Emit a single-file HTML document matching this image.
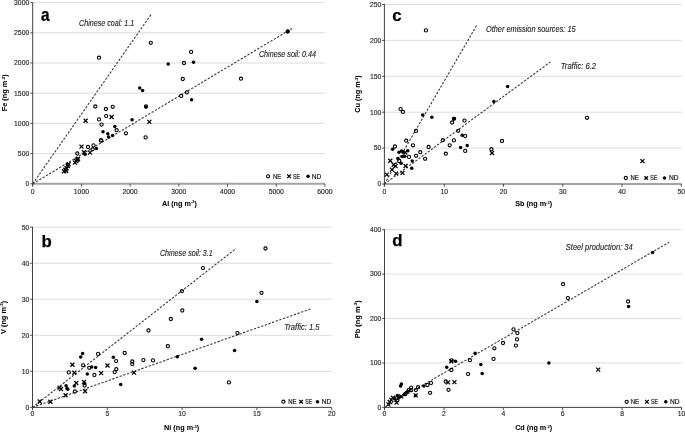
<!DOCTYPE html>
<html><head><meta charset="utf-8"><style>html,body{margin:0;padding:0;background:#fff;}svg{display:block;will-change:transform;}</style></head>
<body><svg width="685" height="432" viewBox="0 0 685 432">
<rect width="685" height="432" fill="#fff"/>
<line x1="32.7" y1="153.60" x2="324.9" y2="153.60" stroke="#d9d9d9" stroke-width="0.9"/>
<line x1="32.7" y1="123.40" x2="324.9" y2="123.40" stroke="#d9d9d9" stroke-width="0.9"/>
<line x1="32.7" y1="93.20" x2="324.9" y2="93.20" stroke="#d9d9d9" stroke-width="0.9"/>
<line x1="32.7" y1="63.00" x2="324.9" y2="63.00" stroke="#d9d9d9" stroke-width="0.9"/>
<line x1="32.7" y1="32.80" x2="324.9" y2="32.80" stroke="#d9d9d9" stroke-width="0.9"/>
<line x1="32.7" y1="2.60" x2="324.9" y2="2.60" stroke="#d9d9d9" stroke-width="0.9"/>
<line x1="32.7" y1="2.10" x2="32.7" y2="186.30" stroke="#404040" stroke-width="1"/>
<line x1="30.300000000000004" y1="183.80" x2="32.7" y2="183.80" stroke="#404040" stroke-width="0.9"/>
<line x1="30.300000000000004" y1="153.60" x2="32.7" y2="153.60" stroke="#404040" stroke-width="0.9"/>
<line x1="30.300000000000004" y1="123.40" x2="32.7" y2="123.40" stroke="#404040" stroke-width="0.9"/>
<line x1="30.300000000000004" y1="93.20" x2="32.7" y2="93.20" stroke="#404040" stroke-width="0.9"/>
<line x1="30.300000000000004" y1="63.00" x2="32.7" y2="63.00" stroke="#404040" stroke-width="0.9"/>
<line x1="30.300000000000004" y1="32.80" x2="32.7" y2="32.80" stroke="#404040" stroke-width="0.9"/>
<line x1="30.300000000000004" y1="2.60" x2="32.7" y2="2.60" stroke="#404040" stroke-width="0.9"/>
<text x="29.20" y="186.13" font-family="Liberation Sans" font-size="7.2" text-anchor="end" font-weight="normal" font-style="normal" fill="#262626" stroke="#262626" stroke-width="0.15" textLength="3.78" lengthAdjust="spacingAndGlyphs" >0</text>
<text x="29.20" y="155.93" font-family="Liberation Sans" font-size="7.2" text-anchor="end" font-weight="normal" font-style="normal" fill="#262626" stroke="#262626" stroke-width="0.15" textLength="11.34" lengthAdjust="spacingAndGlyphs" >500</text>
<text x="29.20" y="125.73" font-family="Liberation Sans" font-size="7.2" text-anchor="end" font-weight="normal" font-style="normal" fill="#262626" stroke="#262626" stroke-width="0.15" textLength="15.12" lengthAdjust="spacingAndGlyphs" >1000</text>
<text x="29.20" y="95.53" font-family="Liberation Sans" font-size="7.2" text-anchor="end" font-weight="normal" font-style="normal" fill="#262626" stroke="#262626" stroke-width="0.15" textLength="15.12" lengthAdjust="spacingAndGlyphs" >1500</text>
<text x="29.20" y="65.33" font-family="Liberation Sans" font-size="7.2" text-anchor="end" font-weight="normal" font-style="normal" fill="#262626" stroke="#262626" stroke-width="0.15" textLength="15.12" lengthAdjust="spacingAndGlyphs" >2000</text>
<text x="29.20" y="35.13" font-family="Liberation Sans" font-size="7.2" text-anchor="end" font-weight="normal" font-style="normal" fill="#262626" stroke="#262626" stroke-width="0.15" textLength="15.12" lengthAdjust="spacingAndGlyphs" >2500</text>
<text x="29.20" y="4.93" font-family="Liberation Sans" font-size="7.2" text-anchor="end" font-weight="normal" font-style="normal" fill="#262626" stroke="#262626" stroke-width="0.15" textLength="15.12" lengthAdjust="spacingAndGlyphs" >3000</text>
<line x1="32.7" y1="183.80" x2="324.9" y2="183.80" stroke="#a3a3a3" stroke-width="2"/>
<line x1="32.70" y1="183.80" x2="32.70" y2="186.60" stroke="#404040" stroke-width="0.9"/>
<line x1="81.40" y1="183.80" x2="81.40" y2="186.60" stroke="#404040" stroke-width="0.9"/>
<line x1="130.10" y1="183.80" x2="130.10" y2="186.60" stroke="#404040" stroke-width="0.9"/>
<line x1="178.80" y1="183.80" x2="178.80" y2="186.60" stroke="#404040" stroke-width="0.9"/>
<line x1="227.50" y1="183.80" x2="227.50" y2="186.60" stroke="#404040" stroke-width="0.9"/>
<line x1="276.20" y1="183.80" x2="276.20" y2="186.60" stroke="#404040" stroke-width="0.9"/>
<line x1="324.90" y1="183.80" x2="324.90" y2="186.60" stroke="#404040" stroke-width="0.9"/>
<text x="32.70" y="194.30" font-family="Liberation Sans" font-size="7.2" text-anchor="middle" font-weight="normal" font-style="normal" fill="#262626" stroke="#262626" stroke-width="0.15" textLength="3.78" lengthAdjust="spacingAndGlyphs" >0</text>
<text x="81.40" y="194.30" font-family="Liberation Sans" font-size="7.2" text-anchor="middle" font-weight="normal" font-style="normal" fill="#262626" stroke="#262626" stroke-width="0.15" textLength="15.12" lengthAdjust="spacingAndGlyphs" >1000</text>
<text x="130.10" y="194.30" font-family="Liberation Sans" font-size="7.2" text-anchor="middle" font-weight="normal" font-style="normal" fill="#262626" stroke="#262626" stroke-width="0.15" textLength="15.12" lengthAdjust="spacingAndGlyphs" >2000</text>
<text x="178.80" y="194.30" font-family="Liberation Sans" font-size="7.2" text-anchor="middle" font-weight="normal" font-style="normal" fill="#262626" stroke="#262626" stroke-width="0.15" textLength="15.12" lengthAdjust="spacingAndGlyphs" >3000</text>
<text x="227.50" y="194.30" font-family="Liberation Sans" font-size="7.2" text-anchor="middle" font-weight="normal" font-style="normal" fill="#262626" stroke="#262626" stroke-width="0.15" textLength="15.12" lengthAdjust="spacingAndGlyphs" >4000</text>
<text x="276.20" y="194.30" font-family="Liberation Sans" font-size="7.2" text-anchor="middle" font-weight="normal" font-style="normal" fill="#262626" stroke="#262626" stroke-width="0.15" textLength="15.12" lengthAdjust="spacingAndGlyphs" >5000</text>
<text x="324.90" y="194.30" font-family="Liberation Sans" font-size="7.2" text-anchor="middle" font-weight="normal" font-style="normal" fill="#262626" stroke="#262626" stroke-width="0.15" textLength="15.12" lengthAdjust="spacingAndGlyphs" >6000</text>
<line x1="32.5" y1="371.36" x2="331.7" y2="371.36" stroke="#d9d9d9" stroke-width="0.9"/>
<line x1="32.5" y1="335.32" x2="331.7" y2="335.32" stroke="#d9d9d9" stroke-width="0.9"/>
<line x1="32.5" y1="299.28" x2="331.7" y2="299.28" stroke="#d9d9d9" stroke-width="0.9"/>
<line x1="32.5" y1="263.24" x2="331.7" y2="263.24" stroke="#d9d9d9" stroke-width="0.9"/>
<line x1="32.5" y1="227.20" x2="331.7" y2="227.20" stroke="#d9d9d9" stroke-width="0.9"/>
<line x1="32.5" y1="226.70" x2="32.5" y2="409.90" stroke="#404040" stroke-width="1"/>
<line x1="30.1" y1="407.40" x2="32.5" y2="407.40" stroke="#404040" stroke-width="0.9"/>
<line x1="30.1" y1="371.36" x2="32.5" y2="371.36" stroke="#404040" stroke-width="0.9"/>
<line x1="30.1" y1="335.32" x2="32.5" y2="335.32" stroke="#404040" stroke-width="0.9"/>
<line x1="30.1" y1="299.28" x2="32.5" y2="299.28" stroke="#404040" stroke-width="0.9"/>
<line x1="30.1" y1="263.24" x2="32.5" y2="263.24" stroke="#404040" stroke-width="0.9"/>
<line x1="30.1" y1="227.20" x2="32.5" y2="227.20" stroke="#404040" stroke-width="0.9"/>
<text x="29.20" y="409.73" font-family="Liberation Sans" font-size="7.2" text-anchor="end" font-weight="normal" font-style="normal" fill="#262626" stroke="#262626" stroke-width="0.15" textLength="3.78" lengthAdjust="spacingAndGlyphs" >0</text>
<text x="29.20" y="373.69" font-family="Liberation Sans" font-size="7.2" text-anchor="end" font-weight="normal" font-style="normal" fill="#262626" stroke="#262626" stroke-width="0.15" textLength="7.56" lengthAdjust="spacingAndGlyphs" >10</text>
<text x="29.20" y="337.65" font-family="Liberation Sans" font-size="7.2" text-anchor="end" font-weight="normal" font-style="normal" fill="#262626" stroke="#262626" stroke-width="0.15" textLength="7.56" lengthAdjust="spacingAndGlyphs" >20</text>
<text x="29.20" y="301.61" font-family="Liberation Sans" font-size="7.2" text-anchor="end" font-weight="normal" font-style="normal" fill="#262626" stroke="#262626" stroke-width="0.15" textLength="7.56" lengthAdjust="spacingAndGlyphs" >30</text>
<text x="29.20" y="265.57" font-family="Liberation Sans" font-size="7.2" text-anchor="end" font-weight="normal" font-style="normal" fill="#262626" stroke="#262626" stroke-width="0.15" textLength="7.56" lengthAdjust="spacingAndGlyphs" >40</text>
<text x="29.20" y="229.53" font-family="Liberation Sans" font-size="7.2" text-anchor="end" font-weight="normal" font-style="normal" fill="#262626" stroke="#262626" stroke-width="0.15" textLength="7.56" lengthAdjust="spacingAndGlyphs" >50</text>
<line x1="32.5" y1="407.40" x2="331.7" y2="407.40" stroke="#404040" stroke-width="1"/>
<line x1="32.50" y1="407.40" x2="32.50" y2="410.20" stroke="#404040" stroke-width="0.9"/>
<line x1="107.30" y1="407.40" x2="107.30" y2="410.20" stroke="#404040" stroke-width="0.9"/>
<line x1="182.10" y1="407.40" x2="182.10" y2="410.20" stroke="#404040" stroke-width="0.9"/>
<line x1="256.90" y1="407.40" x2="256.90" y2="410.20" stroke="#404040" stroke-width="0.9"/>
<line x1="331.70" y1="407.40" x2="331.70" y2="410.20" stroke="#404040" stroke-width="0.9"/>
<text x="32.50" y="416.10" font-family="Liberation Sans" font-size="7.2" text-anchor="middle" font-weight="normal" font-style="normal" fill="#262626" stroke="#262626" stroke-width="0.15" textLength="3.78" lengthAdjust="spacingAndGlyphs" >0</text>
<text x="107.30" y="416.10" font-family="Liberation Sans" font-size="7.2" text-anchor="middle" font-weight="normal" font-style="normal" fill="#262626" stroke="#262626" stroke-width="0.15" textLength="3.78" lengthAdjust="spacingAndGlyphs" >5</text>
<text x="182.10" y="416.10" font-family="Liberation Sans" font-size="7.2" text-anchor="middle" font-weight="normal" font-style="normal" fill="#262626" stroke="#262626" stroke-width="0.15" textLength="7.56" lengthAdjust="spacingAndGlyphs" >10</text>
<text x="256.90" y="416.10" font-family="Liberation Sans" font-size="7.2" text-anchor="middle" font-weight="normal" font-style="normal" fill="#262626" stroke="#262626" stroke-width="0.15" textLength="7.56" lengthAdjust="spacingAndGlyphs" >15</text>
<text x="331.70" y="416.10" font-family="Liberation Sans" font-size="7.2" text-anchor="middle" font-weight="normal" font-style="normal" fill="#262626" stroke="#262626" stroke-width="0.15" textLength="7.56" lengthAdjust="spacingAndGlyphs" >20</text>
<line x1="384.4" y1="148.10" x2="681.6" y2="148.10" stroke="#d9d9d9" stroke-width="0.9"/>
<line x1="384.4" y1="112.20" x2="681.6" y2="112.20" stroke="#d9d9d9" stroke-width="0.9"/>
<line x1="384.4" y1="76.30" x2="681.6" y2="76.30" stroke="#d9d9d9" stroke-width="0.9"/>
<line x1="384.4" y1="40.40" x2="681.6" y2="40.40" stroke="#d9d9d9" stroke-width="0.9"/>
<line x1="384.4" y1="4.50" x2="681.6" y2="4.50" stroke="#d9d9d9" stroke-width="0.9"/>
<line x1="384.4" y1="4.00" x2="384.4" y2="186.50" stroke="#404040" stroke-width="1"/>
<line x1="382.0" y1="184.00" x2="384.4" y2="184.00" stroke="#404040" stroke-width="0.9"/>
<line x1="382.0" y1="148.10" x2="384.4" y2="148.10" stroke="#404040" stroke-width="0.9"/>
<line x1="382.0" y1="112.20" x2="384.4" y2="112.20" stroke="#404040" stroke-width="0.9"/>
<line x1="382.0" y1="76.30" x2="384.4" y2="76.30" stroke="#404040" stroke-width="0.9"/>
<line x1="382.0" y1="40.40" x2="384.4" y2="40.40" stroke="#404040" stroke-width="0.9"/>
<line x1="382.0" y1="4.50" x2="384.4" y2="4.50" stroke="#404040" stroke-width="0.9"/>
<text x="381.40" y="186.33" font-family="Liberation Sans" font-size="7.2" text-anchor="end" font-weight="normal" font-style="normal" fill="#262626" stroke="#262626" stroke-width="0.15" textLength="3.78" lengthAdjust="spacingAndGlyphs" >0</text>
<text x="381.40" y="150.43" font-family="Liberation Sans" font-size="7.2" text-anchor="end" font-weight="normal" font-style="normal" fill="#262626" stroke="#262626" stroke-width="0.15" textLength="7.56" lengthAdjust="spacingAndGlyphs" >50</text>
<text x="381.40" y="114.53" font-family="Liberation Sans" font-size="7.2" text-anchor="end" font-weight="normal" font-style="normal" fill="#262626" stroke="#262626" stroke-width="0.15" textLength="11.34" lengthAdjust="spacingAndGlyphs" >100</text>
<text x="381.40" y="78.63" font-family="Liberation Sans" font-size="7.2" text-anchor="end" font-weight="normal" font-style="normal" fill="#262626" stroke="#262626" stroke-width="0.15" textLength="11.34" lengthAdjust="spacingAndGlyphs" >150</text>
<text x="381.40" y="42.73" font-family="Liberation Sans" font-size="7.2" text-anchor="end" font-weight="normal" font-style="normal" fill="#262626" stroke="#262626" stroke-width="0.15" textLength="11.34" lengthAdjust="spacingAndGlyphs" >200</text>
<text x="381.40" y="6.83" font-family="Liberation Sans" font-size="7.2" text-anchor="end" font-weight="normal" font-style="normal" fill="#262626" stroke="#262626" stroke-width="0.15" textLength="11.34" lengthAdjust="spacingAndGlyphs" >250</text>
<line x1="384.4" y1="184.00" x2="681.6" y2="184.00" stroke="#a3a3a3" stroke-width="2"/>
<line x1="384.40" y1="184.00" x2="384.40" y2="186.80" stroke="#404040" stroke-width="0.9"/>
<line x1="444.25" y1="184.00" x2="444.25" y2="186.80" stroke="#404040" stroke-width="0.9"/>
<line x1="503.50" y1="184.00" x2="503.50" y2="186.80" stroke="#404040" stroke-width="0.9"/>
<line x1="562.75" y1="184.00" x2="562.75" y2="186.80" stroke="#404040" stroke-width="0.9"/>
<line x1="622.00" y1="184.00" x2="622.00" y2="186.80" stroke="#404040" stroke-width="0.9"/>
<line x1="681.30" y1="184.00" x2="681.30" y2="186.80" stroke="#404040" stroke-width="0.9"/>
<text x="384.40" y="193.80" font-family="Liberation Sans" font-size="7.2" text-anchor="middle" font-weight="normal" font-style="normal" fill="#262626" stroke="#262626" stroke-width="0.15" textLength="3.78" lengthAdjust="spacingAndGlyphs" >0</text>
<text x="444.25" y="193.80" font-family="Liberation Sans" font-size="7.2" text-anchor="middle" font-weight="normal" font-style="normal" fill="#262626" stroke="#262626" stroke-width="0.15" textLength="7.56" lengthAdjust="spacingAndGlyphs" >10</text>
<text x="503.50" y="193.80" font-family="Liberation Sans" font-size="7.2" text-anchor="middle" font-weight="normal" font-style="normal" fill="#262626" stroke="#262626" stroke-width="0.15" textLength="7.56" lengthAdjust="spacingAndGlyphs" >20</text>
<text x="562.75" y="193.80" font-family="Liberation Sans" font-size="7.2" text-anchor="middle" font-weight="normal" font-style="normal" fill="#262626" stroke="#262626" stroke-width="0.15" textLength="7.56" lengthAdjust="spacingAndGlyphs" >30</text>
<text x="622.00" y="193.80" font-family="Liberation Sans" font-size="7.2" text-anchor="middle" font-weight="normal" font-style="normal" fill="#262626" stroke="#262626" stroke-width="0.15" textLength="7.56" lengthAdjust="spacingAndGlyphs" >40</text>
<text x="681.30" y="193.80" font-family="Liberation Sans" font-size="7.2" text-anchor="middle" font-weight="normal" font-style="normal" fill="#262626" stroke="#262626" stroke-width="0.15" textLength="7.56" lengthAdjust="spacingAndGlyphs" >50</text>
<line x1="384.5" y1="362.97" x2="681.6" y2="362.97" stroke="#d9d9d9" stroke-width="0.9"/>
<line x1="384.5" y1="318.55" x2="681.6" y2="318.55" stroke="#d9d9d9" stroke-width="0.9"/>
<line x1="384.5" y1="274.12" x2="681.6" y2="274.12" stroke="#d9d9d9" stroke-width="0.9"/>
<line x1="384.5" y1="229.70" x2="681.6" y2="229.70" stroke="#d9d9d9" stroke-width="0.9"/>
<line x1="384.5" y1="229.20" x2="384.5" y2="409.90" stroke="#404040" stroke-width="1"/>
<line x1="382.1" y1="407.40" x2="384.5" y2="407.40" stroke="#404040" stroke-width="0.9"/>
<line x1="382.1" y1="362.97" x2="384.5" y2="362.97" stroke="#404040" stroke-width="0.9"/>
<line x1="382.1" y1="318.55" x2="384.5" y2="318.55" stroke="#404040" stroke-width="0.9"/>
<line x1="382.1" y1="274.12" x2="384.5" y2="274.12" stroke="#404040" stroke-width="0.9"/>
<line x1="382.1" y1="229.70" x2="384.5" y2="229.70" stroke="#404040" stroke-width="0.9"/>
<text x="381.40" y="409.73" font-family="Liberation Sans" font-size="7.2" text-anchor="end" font-weight="normal" font-style="normal" fill="#262626" stroke="#262626" stroke-width="0.15" textLength="3.78" lengthAdjust="spacingAndGlyphs" >0</text>
<text x="381.40" y="365.30" font-family="Liberation Sans" font-size="7.2" text-anchor="end" font-weight="normal" font-style="normal" fill="#262626" stroke="#262626" stroke-width="0.15" textLength="11.34" lengthAdjust="spacingAndGlyphs" >100</text>
<text x="381.40" y="320.88" font-family="Liberation Sans" font-size="7.2" text-anchor="end" font-weight="normal" font-style="normal" fill="#262626" stroke="#262626" stroke-width="0.15" textLength="11.34" lengthAdjust="spacingAndGlyphs" >200</text>
<text x="381.40" y="276.45" font-family="Liberation Sans" font-size="7.2" text-anchor="end" font-weight="normal" font-style="normal" fill="#262626" stroke="#262626" stroke-width="0.15" textLength="11.34" lengthAdjust="spacingAndGlyphs" >300</text>
<text x="381.40" y="232.03" font-family="Liberation Sans" font-size="7.2" text-anchor="end" font-weight="normal" font-style="normal" fill="#262626" stroke="#262626" stroke-width="0.15" textLength="11.34" lengthAdjust="spacingAndGlyphs" >400</text>
<line x1="384.5" y1="407.40" x2="681.6" y2="407.40" stroke="#404040" stroke-width="1"/>
<line x1="384.50" y1="407.40" x2="384.50" y2="410.20" stroke="#404040" stroke-width="0.9"/>
<line x1="444.00" y1="407.40" x2="444.00" y2="410.20" stroke="#404040" stroke-width="0.9"/>
<line x1="503.30" y1="407.40" x2="503.30" y2="410.20" stroke="#404040" stroke-width="0.9"/>
<line x1="562.70" y1="407.40" x2="562.70" y2="410.20" stroke="#404040" stroke-width="0.9"/>
<line x1="622.10" y1="407.40" x2="622.10" y2="410.20" stroke="#404040" stroke-width="0.9"/>
<line x1="681.50" y1="407.40" x2="681.50" y2="410.20" stroke="#404040" stroke-width="0.9"/>
<text x="384.50" y="415.70" font-family="Liberation Sans" font-size="7.2" text-anchor="middle" font-weight="normal" font-style="normal" fill="#262626" stroke="#262626" stroke-width="0.15" textLength="3.78" lengthAdjust="spacingAndGlyphs" >0</text>
<text x="444.00" y="415.70" font-family="Liberation Sans" font-size="7.2" text-anchor="middle" font-weight="normal" font-style="normal" fill="#262626" stroke="#262626" stroke-width="0.15" textLength="3.78" lengthAdjust="spacingAndGlyphs" >2</text>
<text x="503.30" y="415.70" font-family="Liberation Sans" font-size="7.2" text-anchor="middle" font-weight="normal" font-style="normal" fill="#262626" stroke="#262626" stroke-width="0.15" textLength="3.78" lengthAdjust="spacingAndGlyphs" >4</text>
<text x="562.70" y="415.70" font-family="Liberation Sans" font-size="7.2" text-anchor="middle" font-weight="normal" font-style="normal" fill="#262626" stroke="#262626" stroke-width="0.15" textLength="3.78" lengthAdjust="spacingAndGlyphs" >6</text>
<text x="622.10" y="415.70" font-family="Liberation Sans" font-size="7.2" text-anchor="middle" font-weight="normal" font-style="normal" fill="#262626" stroke="#262626" stroke-width="0.15" textLength="3.78" lengthAdjust="spacingAndGlyphs" >8</text>
<text x="681.50" y="415.70" font-family="Liberation Sans" font-size="7.2" text-anchor="middle" font-weight="normal" font-style="normal" fill="#262626" stroke="#262626" stroke-width="0.15" textLength="7.56" lengthAdjust="spacingAndGlyphs" >10</text>
<text x="41.10" y="20.60" font-family="Liberation Sans" font-size="17.8" text-anchor="start" font-weight="bold" font-style="normal" fill="#000" stroke="#000" stroke-width="0.25" textLength="8.6" lengthAdjust="spacingAndGlyphs" >a</text>
<text x="41.60" y="246.70" font-family="Liberation Sans" font-size="16.8" text-anchor="start" font-weight="bold" font-style="normal" fill="#000" stroke="#000" stroke-width="0.25" >b</text>
<text x="392.30" y="20.60" font-family="Liberation Sans" font-size="16.8" text-anchor="start" font-weight="bold" font-style="normal" fill="#000" stroke="#000" stroke-width="0.25" >c</text>
<text x="392.30" y="246.40" font-family="Liberation Sans" font-size="16.8" text-anchor="start" font-weight="bold" font-style="normal" fill="#000" stroke="#000" stroke-width="0.25" >d</text>
<text x="179.40" y="205.80" font-family="Liberation Sans" font-size="7.6" font-weight="bold" text-anchor="middle" fill="#000" stroke="#000" stroke-width="0.05" textLength="35" lengthAdjust="spacingAndGlyphs">Al (ng m<tspan font-size="4.2" dy="-2.4">-3</tspan><tspan dy="2.4">)</tspan></text>
<g transform="translate(4.30,92.80) rotate(-90)"><text x="0" y="2.6" font-family="Liberation Sans" font-size="7.2" font-weight="bold" text-anchor="middle" fill="#000" stroke="#000" stroke-width="0.05" textLength="37" lengthAdjust="spacingAndGlyphs">Fe (ng m<tspan font-size="4.2" dy="-2.4">-3</tspan><tspan dy="2.4">)</tspan></text></g>
<text x="181.60" y="429.90" font-family="Liberation Sans" font-size="7.6" font-weight="bold" text-anchor="middle" fill="#000" stroke="#000" stroke-width="0.05" textLength="35" lengthAdjust="spacingAndGlyphs">Ni (ng m<tspan font-size="4.2" dy="-2.4">-3</tspan><tspan dy="2.4">)</tspan></text>
<g transform="translate(3.00,317.40) rotate(-90)"><text x="0" y="2.6" font-family="Liberation Sans" font-size="7.2" font-weight="bold" text-anchor="middle" fill="#000" stroke="#000" stroke-width="0.05" textLength="33.2" lengthAdjust="spacingAndGlyphs">V (ng m<tspan font-size="4.2" dy="-2.4">-3</tspan><tspan dy="2.4">)</tspan></text></g>
<text x="533.60" y="206.10" font-family="Liberation Sans" font-size="7.6" font-weight="bold" text-anchor="middle" fill="#000" stroke="#000" stroke-width="0.05" textLength="36.9" lengthAdjust="spacingAndGlyphs">Sb (ng m<tspan font-size="4.2" dy="-2.4">-3</tspan><tspan dy="2.4">)</tspan></text>
<g transform="translate(357.40,94.00) rotate(-90)"><text x="0" y="2.6" font-family="Liberation Sans" font-size="7.2" font-weight="bold" text-anchor="middle" fill="#000" stroke="#000" stroke-width="0.05" textLength="37.5" lengthAdjust="spacingAndGlyphs">Cu (ng m<tspan font-size="4.2" dy="-2.4">-3</tspan><tspan dy="2.4">)</tspan></text></g>
<text x="533.60" y="430.20" font-family="Liberation Sans" font-size="7.6" font-weight="bold" text-anchor="middle" fill="#000" stroke="#000" stroke-width="0.05" textLength="36.9" lengthAdjust="spacingAndGlyphs">Cd (ng m<tspan font-size="4.2" dy="-2.4">-3</tspan><tspan dy="2.4">)</tspan></text>
<g transform="translate(357.00,319.20) rotate(-90)"><text x="0" y="2.6" font-family="Liberation Sans" font-size="7.2" font-weight="bold" text-anchor="middle" fill="#000" stroke="#000" stroke-width="0.05" textLength="38" lengthAdjust="spacingAndGlyphs">Pb (ng m<tspan font-size="4.2" dy="-2.4">-3</tspan><tspan dy="2.4">)</tspan></text></g>
<text x="79.10" y="26.00" font-family="Liberation Sans" font-size="8.6" text-anchor="start" font-weight="normal" font-style="italic" fill="#222" stroke="#222" stroke-width="0.12" textLength="55.1" lengthAdjust="spacingAndGlyphs" >Chinese coal: 1.1</text>
<text x="258.90" y="57.40" font-family="Liberation Sans" font-size="8.6" text-anchor="start" font-weight="normal" font-style="italic" fill="#222" stroke="#222" stroke-width="0.12" textLength="57.2" lengthAdjust="spacingAndGlyphs" >Chinese soil: 0.44</text>
<text x="159.90" y="256.40" font-family="Liberation Sans" font-size="8.6" text-anchor="start" font-weight="normal" font-style="italic" fill="#222" stroke="#222" stroke-width="0.12" textLength="52.9" lengthAdjust="spacingAndGlyphs" >Chinese soil: 3.1</text>
<text x="284.20" y="329.90" font-family="Liberation Sans" font-size="8.6" text-anchor="start" font-weight="normal" font-style="italic" fill="#222" stroke="#222" stroke-width="0.12" textLength="35.4" lengthAdjust="spacingAndGlyphs" >Traffic: 1.5</text>
<text x="486.00" y="31.90" font-family="Liberation Sans" font-size="8.6" text-anchor="start" font-weight="normal" font-style="italic" fill="#222" stroke="#222" stroke-width="0.12" textLength="89.6" lengthAdjust="spacingAndGlyphs" >Other emission sources: 15</text>
<text x="560.80" y="68.70" font-family="Liberation Sans" font-size="8.6" text-anchor="start" font-weight="normal" font-style="italic" fill="#222" stroke="#222" stroke-width="0.12" textLength="35.3" lengthAdjust="spacingAndGlyphs" >Traffic: 6.2</text>
<text x="565.80" y="249.70" font-family="Liberation Sans" font-size="8.6" text-anchor="start" font-weight="normal" font-style="italic" fill="#222" stroke="#222" stroke-width="0.12" textLength="66.8" lengthAdjust="spacingAndGlyphs" >Steel production: 34</text>
<line x1="32.70" y1="183.80" x2="151.00" y2="14.60" stroke="#383838" stroke-width="1.1" stroke-dasharray="2.3 1.55"/>
<line x1="32.70" y1="183.80" x2="292.00" y2="28.50" stroke="#383838" stroke-width="1.1" stroke-dasharray="2.3 1.55"/>
<line x1="32.50" y1="407.40" x2="236.10" y2="248.50" stroke="#383838" stroke-width="1.1" stroke-dasharray="2.3 1.55"/>
<line x1="32.50" y1="407.40" x2="311.90" y2="308.50" stroke="#383838" stroke-width="1.1" stroke-dasharray="2.3 1.55"/>
<line x1="384.40" y1="184.00" x2="476.90" y2="24.90" stroke="#383838" stroke-width="1.1" stroke-dasharray="2.3 1.55"/>
<line x1="384.40" y1="184.00" x2="550.50" y2="61.90" stroke="#383838" stroke-width="1.1" stroke-dasharray="2.3 1.55"/>
<line x1="384.50" y1="407.40" x2="669.10" y2="242.30" stroke="#383838" stroke-width="1.1" stroke-dasharray="2.3 1.55"/>
<circle cx="268.10" cy="176.30" r="1.6" fill="none" stroke="#000" stroke-width="1.1"/>
<path d="M287.20 174.50L290.80 178.10M287.20 178.10L290.80 174.50" stroke="#000" stroke-width="1.25" fill="none"/>
<circle cx="308.10" cy="176.30" r="1.75" fill="#000"/>
<text x="272.90" y="178.60" font-family="Liberation Sans" font-size="6.4" text-anchor="start" font-weight="normal" font-style="normal" fill="#1a1a1a" stroke="#1a1a1a" stroke-width="0.2" textLength="8.3" lengthAdjust="spacingAndGlyphs" >NE</text>
<text x="293.00" y="178.60" font-family="Liberation Sans" font-size="6.4" text-anchor="start" font-weight="normal" font-style="normal" fill="#1a1a1a" stroke="#1a1a1a" stroke-width="0.2" textLength="7.0" lengthAdjust="spacingAndGlyphs" >SE</text>
<text x="311.70" y="178.60" font-family="Liberation Sans" font-size="6.4" text-anchor="start" font-weight="normal" font-style="normal" fill="#1a1a1a" stroke="#1a1a1a" stroke-width="0.2" textLength="9.5" lengthAdjust="spacingAndGlyphs" >ND</text>
<circle cx="283.40" cy="401.70" r="1.6" fill="none" stroke="#000" stroke-width="1.1"/>
<path d="M299.30 399.90L302.90 403.50M299.30 403.50L302.90 399.90" stroke="#000" stroke-width="1.25" fill="none"/>
<circle cx="317.50" cy="401.70" r="1.75" fill="#000"/>
<text x="288.30" y="404.00" font-family="Liberation Sans" font-size="6.4" text-anchor="start" font-weight="normal" font-style="normal" fill="#1a1a1a" stroke="#1a1a1a" stroke-width="0.2" textLength="8.3" lengthAdjust="spacingAndGlyphs" >NE</text>
<text x="305.20" y="404.00" font-family="Liberation Sans" font-size="6.4" text-anchor="start" font-weight="normal" font-style="normal" fill="#1a1a1a" stroke="#1a1a1a" stroke-width="0.2" textLength="7.0" lengthAdjust="spacingAndGlyphs" >SE</text>
<text x="321.80" y="404.00" font-family="Liberation Sans" font-size="6.4" text-anchor="start" font-weight="normal" font-style="normal" fill="#1a1a1a" stroke="#1a1a1a" stroke-width="0.2" textLength="9.5" lengthAdjust="spacingAndGlyphs" >ND</text>
<circle cx="625.80" cy="178.00" r="1.6" fill="none" stroke="#000" stroke-width="1.1"/>
<path d="M644.40 176.20L648.00 179.80M644.40 179.80L648.00 176.20" stroke="#000" stroke-width="1.25" fill="none"/>
<circle cx="664.50" cy="178.00" r="1.75" fill="#000"/>
<text x="630.40" y="180.30" font-family="Liberation Sans" font-size="6.4" text-anchor="start" font-weight="normal" font-style="normal" fill="#1a1a1a" stroke="#1a1a1a" stroke-width="0.2" textLength="8.3" lengthAdjust="spacingAndGlyphs" >NE</text>
<text x="650.20" y="180.30" font-family="Liberation Sans" font-size="6.4" text-anchor="start" font-weight="normal" font-style="normal" fill="#1a1a1a" stroke="#1a1a1a" stroke-width="0.2" textLength="7.0" lengthAdjust="spacingAndGlyphs" >SE</text>
<text x="668.90" y="180.30" font-family="Liberation Sans" font-size="6.4" text-anchor="start" font-weight="normal" font-style="normal" fill="#1a1a1a" stroke="#1a1a1a" stroke-width="0.2" textLength="9.5" lengthAdjust="spacingAndGlyphs" >ND</text>
<circle cx="626.70" cy="401.80" r="1.6" fill="none" stroke="#000" stroke-width="1.1"/>
<path d="M645.10 400.00L648.70 403.60M645.10 403.60L648.70 400.00" stroke="#000" stroke-width="1.25" fill="none"/>
<circle cx="665.80" cy="401.80" r="1.75" fill="#000"/>
<text x="630.80" y="404.10" font-family="Liberation Sans" font-size="6.4" text-anchor="start" font-weight="normal" font-style="normal" fill="#1a1a1a" stroke="#1a1a1a" stroke-width="0.2" textLength="8.3" lengthAdjust="spacingAndGlyphs" >NE</text>
<text x="650.90" y="404.10" font-family="Liberation Sans" font-size="6.4" text-anchor="start" font-weight="normal" font-style="normal" fill="#1a1a1a" stroke="#1a1a1a" stroke-width="0.2" textLength="7.0" lengthAdjust="spacingAndGlyphs" >SE</text>
<text x="670.10" y="404.10" font-family="Liberation Sans" font-size="6.4" text-anchor="start" font-weight="normal" font-style="normal" fill="#1a1a1a" stroke="#1a1a1a" stroke-width="0.2" textLength="9.5" lengthAdjust="spacingAndGlyphs" >ND</text>
<circle cx="287.70" cy="31.50" r="1.6" fill="none" stroke="#000" stroke-width="1.1"/>
<circle cx="98.96" cy="57.70" r="1.6" fill="none" stroke="#000" stroke-width="1.1"/>
<circle cx="150.80" cy="42.80" r="1.6" fill="none" stroke="#000" stroke-width="1.1"/>
<circle cx="191.10" cy="51.90" r="1.6" fill="none" stroke="#000" stroke-width="1.1"/>
<circle cx="184.00" cy="63.00" r="1.6" fill="none" stroke="#000" stroke-width="1.1"/>
<circle cx="182.80" cy="79.00" r="1.6" fill="none" stroke="#000" stroke-width="1.1"/>
<circle cx="186.80" cy="92.40" r="1.6" fill="none" stroke="#000" stroke-width="1.1"/>
<circle cx="181.20" cy="95.90" r="1.6" fill="none" stroke="#000" stroke-width="1.1"/>
<circle cx="241.00" cy="78.70" r="1.6" fill="none" stroke="#000" stroke-width="1.1"/>
<circle cx="95.30" cy="106.50" r="1.6" fill="none" stroke="#000" stroke-width="1.1"/>
<circle cx="105.90" cy="109.00" r="1.6" fill="none" stroke="#000" stroke-width="1.1"/>
<circle cx="112.70" cy="106.80" r="1.6" fill="none" stroke="#000" stroke-width="1.1"/>
<circle cx="106.20" cy="116.10" r="1.6" fill="none" stroke="#000" stroke-width="1.1"/>
<circle cx="99.00" cy="119.40" r="1.6" fill="none" stroke="#000" stroke-width="1.1"/>
<circle cx="101.60" cy="124.60" r="1.6" fill="none" stroke="#000" stroke-width="1.1"/>
<circle cx="116.60" cy="130.20" r="1.6" fill="none" stroke="#000" stroke-width="1.1"/>
<circle cx="125.90" cy="133.30" r="1.6" fill="none" stroke="#000" stroke-width="1.1"/>
<circle cx="100.90" cy="140.40" r="1.6" fill="none" stroke="#000" stroke-width="1.1"/>
<circle cx="145.60" cy="137.40" r="1.6" fill="none" stroke="#000" stroke-width="1.1"/>
<circle cx="146.00" cy="106.40" r="1.6" fill="none" stroke="#000" stroke-width="1.1"/>
<circle cx="101.20" cy="140.50" r="1.6" fill="none" stroke="#000" stroke-width="1.1"/>
<circle cx="88.00" cy="147.00" r="1.6" fill="none" stroke="#000" stroke-width="1.1"/>
<circle cx="93.50" cy="145.40" r="1.6" fill="none" stroke="#000" stroke-width="1.1"/>
<circle cx="92.60" cy="149.30" r="1.6" fill="none" stroke="#000" stroke-width="1.1"/>
<circle cx="77.30" cy="153.50" r="1.6" fill="none" stroke="#000" stroke-width="1.1"/>
<circle cx="287.70" cy="31.50" r="1.75" fill="#000"/>
<circle cx="168.20" cy="64.10" r="1.75" fill="#000"/>
<circle cx="193.50" cy="62.20" r="1.75" fill="#000"/>
<circle cx="139.70" cy="88.00" r="1.75" fill="#000"/>
<circle cx="142.60" cy="90.60" r="1.75" fill="#000"/>
<circle cx="191.60" cy="99.80" r="1.75" fill="#000"/>
<circle cx="146.00" cy="106.90" r="1.75" fill="#000"/>
<circle cx="132.10" cy="119.80" r="1.75" fill="#000"/>
<circle cx="114.80" cy="126.60" r="1.75" fill="#000"/>
<circle cx="103.00" cy="131.80" r="1.75" fill="#000"/>
<circle cx="107.80" cy="133.80" r="1.75" fill="#000"/>
<circle cx="108.50" cy="137.00" r="1.75" fill="#000"/>
<circle cx="112.60" cy="135.60" r="1.75" fill="#000"/>
<circle cx="96.40" cy="148.40" r="1.75" fill="#000"/>
<circle cx="85.00" cy="154.30" r="1.75" fill="#000"/>
<circle cx="68.00" cy="165.20" r="1.75" fill="#000"/>
<path d="M83.60 118.80L87.60 122.80M83.60 122.80L87.60 118.80" stroke="#000" stroke-width="1.25" fill="none"/>
<path d="M109.60 115.00L113.60 119.00M109.60 119.00L113.60 115.00" stroke="#000" stroke-width="1.25" fill="none"/>
<path d="M147.30 119.90L151.30 123.90M147.30 123.90L151.30 119.90" stroke="#000" stroke-width="1.25" fill="none"/>
<path d="M79.50 144.60L83.50 148.60M79.50 148.60L83.50 144.60" stroke="#000" stroke-width="1.25" fill="none"/>
<path d="M82.00 150.30L86.00 154.30M82.00 154.30L86.00 150.30" stroke="#000" stroke-width="1.25" fill="none"/>
<path d="M88.00 150.60L92.00 154.60M88.00 154.60L92.00 150.60" stroke="#000" stroke-width="1.25" fill="none"/>
<path d="M73.00 160.60L77.00 164.60M73.00 164.60L77.00 160.60" stroke="#000" stroke-width="1.25" fill="none"/>
<path d="M74.20 159.00L78.20 163.00M74.20 163.00L78.20 159.00" stroke="#000" stroke-width="1.25" fill="none"/>
<path d="M75.30 157.80L79.30 161.80M75.30 161.80L79.30 157.80" stroke="#000" stroke-width="1.25" fill="none"/>
<path d="M76.00 156.80L80.00 160.80M76.00 160.80L80.00 156.80" stroke="#000" stroke-width="1.25" fill="none"/>
<path d="M62.00 169.30L66.00 173.30M62.00 173.30L66.00 169.30" stroke="#000" stroke-width="1.25" fill="none"/>
<path d="M63.30 167.80L67.30 171.80M63.30 171.80L67.30 167.80" stroke="#000" stroke-width="1.25" fill="none"/>
<path d="M64.50 166.30L68.50 170.30M64.50 170.30L68.50 166.30" stroke="#000" stroke-width="1.25" fill="none"/>
<path d="M65.80 164.00L69.80 168.00M65.80 168.00L69.80 164.00" stroke="#000" stroke-width="1.25" fill="none"/>
<path d="M66.60 162.30L70.60 166.30M66.60 166.30L70.60 162.30" stroke="#000" stroke-width="1.25" fill="none"/>
<path d="M64.20 169.00L68.20 173.00M64.20 173.00L68.20 169.00" stroke="#000" stroke-width="1.25" fill="none"/>
<circle cx="68.80" cy="372.40" r="1.6" fill="none" stroke="#000" stroke-width="1.1"/>
<circle cx="83.10" cy="365.30" r="1.6" fill="none" stroke="#000" stroke-width="1.1"/>
<circle cx="89.20" cy="367.80" r="1.6" fill="none" stroke="#000" stroke-width="1.1"/>
<circle cx="98.10" cy="353.90" r="1.6" fill="none" stroke="#000" stroke-width="1.1"/>
<circle cx="124.70" cy="353.00" r="1.6" fill="none" stroke="#000" stroke-width="1.1"/>
<circle cx="116.10" cy="361.10" r="1.6" fill="none" stroke="#000" stroke-width="1.1"/>
<circle cx="132.30" cy="361.50" r="1.6" fill="none" stroke="#000" stroke-width="1.1"/>
<circle cx="132.30" cy="364.10" r="1.6" fill="none" stroke="#000" stroke-width="1.1"/>
<circle cx="116.30" cy="369.20" r="1.6" fill="none" stroke="#000" stroke-width="1.1"/>
<circle cx="114.70" cy="372.10" r="1.6" fill="none" stroke="#000" stroke-width="1.1"/>
<circle cx="94.40" cy="375.00" r="1.6" fill="none" stroke="#000" stroke-width="1.1"/>
<circle cx="84.60" cy="385.40" r="1.6" fill="none" stroke="#000" stroke-width="1.1"/>
<circle cx="74.90" cy="391.50" r="1.6" fill="none" stroke="#000" stroke-width="1.1"/>
<circle cx="148.50" cy="330.50" r="1.6" fill="none" stroke="#000" stroke-width="1.1"/>
<circle cx="167.80" cy="346.20" r="1.6" fill="none" stroke="#000" stroke-width="1.1"/>
<circle cx="143.40" cy="360.10" r="1.6" fill="none" stroke="#000" stroke-width="1.1"/>
<circle cx="153.00" cy="360.40" r="1.6" fill="none" stroke="#000" stroke-width="1.1"/>
<circle cx="182.30" cy="310.50" r="1.6" fill="none" stroke="#000" stroke-width="1.1"/>
<circle cx="170.80" cy="319.00" r="1.6" fill="none" stroke="#000" stroke-width="1.1"/>
<circle cx="181.90" cy="291.10" r="1.6" fill="none" stroke="#000" stroke-width="1.1"/>
<circle cx="202.90" cy="268.10" r="1.6" fill="none" stroke="#000" stroke-width="1.1"/>
<circle cx="265.50" cy="248.50" r="1.6" fill="none" stroke="#000" stroke-width="1.1"/>
<circle cx="261.50" cy="292.80" r="1.6" fill="none" stroke="#000" stroke-width="1.1"/>
<circle cx="237.40" cy="333.10" r="1.6" fill="none" stroke="#000" stroke-width="1.1"/>
<circle cx="228.90" cy="382.40" r="1.6" fill="none" stroke="#000" stroke-width="1.1"/>
<circle cx="82.60" cy="353.40" r="1.75" fill="#000"/>
<circle cx="80.70" cy="356.90" r="1.75" fill="#000"/>
<circle cx="87.30" cy="374.00" r="1.75" fill="#000"/>
<circle cx="91.60" cy="367.00" r="1.75" fill="#000"/>
<circle cx="95.60" cy="367.40" r="1.75" fill="#000"/>
<circle cx="113.30" cy="357.30" r="1.75" fill="#000"/>
<circle cx="66.10" cy="385.70" r="1.75" fill="#000"/>
<circle cx="67.00" cy="388.50" r="1.75" fill="#000"/>
<circle cx="67.80" cy="389.20" r="1.75" fill="#000"/>
<circle cx="74.30" cy="385.90" r="1.75" fill="#000"/>
<circle cx="84.60" cy="383.40" r="1.75" fill="#000"/>
<circle cx="120.70" cy="384.60" r="1.75" fill="#000"/>
<circle cx="177.40" cy="356.70" r="1.75" fill="#000"/>
<circle cx="201.60" cy="339.30" r="1.75" fill="#000"/>
<circle cx="195.10" cy="368.30" r="1.75" fill="#000"/>
<circle cx="234.60" cy="350.60" r="1.75" fill="#000"/>
<circle cx="256.90" cy="301.50" r="1.75" fill="#000"/>
<path d="M70.40 362.80L74.40 366.80M70.40 366.80L74.40 362.80" stroke="#000" stroke-width="1.25" fill="none"/>
<path d="M72.30 370.70L76.30 374.70M72.30 374.70L76.30 370.70" stroke="#000" stroke-width="1.25" fill="none"/>
<path d="M57.60 385.60L61.60 389.60M57.60 389.60L61.60 385.60" stroke="#000" stroke-width="1.25" fill="none"/>
<path d="M59.00 387.00L63.00 391.00M59.00 391.00L63.00 387.00" stroke="#000" stroke-width="1.25" fill="none"/>
<path d="M74.30 381.00L78.30 385.00M74.30 385.00L78.30 381.00" stroke="#000" stroke-width="1.25" fill="none"/>
<path d="M82.00 380.00L86.00 384.00M82.00 384.00L86.00 380.00" stroke="#000" stroke-width="1.25" fill="none"/>
<path d="M83.10 389.20L87.10 393.20M83.10 393.20L87.10 389.20" stroke="#000" stroke-width="1.25" fill="none"/>
<path d="M63.60 393.20L67.60 397.20M63.60 397.20L67.60 393.20" stroke="#000" stroke-width="1.25" fill="none"/>
<path d="M37.70 399.50L41.70 403.50M37.70 403.50L41.70 399.50" stroke="#000" stroke-width="1.25" fill="none"/>
<path d="M48.40 399.70L52.40 403.70M48.40 403.70L52.40 399.70" stroke="#000" stroke-width="1.25" fill="none"/>
<path d="M105.50 363.50L109.50 367.50M105.50 367.50L109.50 363.50" stroke="#000" stroke-width="1.25" fill="none"/>
<path d="M99.10 371.10L103.10 375.10M99.10 375.10L103.10 371.10" stroke="#000" stroke-width="1.25" fill="none"/>
<path d="M132.00 370.60L136.00 374.60M132.00 374.60L136.00 370.60" stroke="#000" stroke-width="1.25" fill="none"/>
<circle cx="425.90" cy="30.40" r="1.6" fill="none" stroke="#000" stroke-width="1.1"/>
<circle cx="400.60" cy="109.10" r="1.6" fill="none" stroke="#000" stroke-width="1.1"/>
<circle cx="402.90" cy="111.90" r="1.6" fill="none" stroke="#000" stroke-width="1.1"/>
<circle cx="416.00" cy="130.90" r="1.6" fill="none" stroke="#000" stroke-width="1.1"/>
<circle cx="406.20" cy="140.70" r="1.6" fill="none" stroke="#000" stroke-width="1.1"/>
<circle cx="413.00" cy="145.30" r="1.6" fill="none" stroke="#000" stroke-width="1.1"/>
<circle cx="428.60" cy="147.00" r="1.6" fill="none" stroke="#000" stroke-width="1.1"/>
<circle cx="442.80" cy="140.20" r="1.6" fill="none" stroke="#000" stroke-width="1.1"/>
<circle cx="420.30" cy="152.20" r="1.6" fill="none" stroke="#000" stroke-width="1.1"/>
<circle cx="416.10" cy="155.80" r="1.6" fill="none" stroke="#000" stroke-width="1.1"/>
<circle cx="409.00" cy="156.90" r="1.6" fill="none" stroke="#000" stroke-width="1.1"/>
<circle cx="425.10" cy="158.80" r="1.6" fill="none" stroke="#000" stroke-width="1.1"/>
<circle cx="394.90" cy="146.50" r="1.6" fill="none" stroke="#000" stroke-width="1.1"/>
<circle cx="399.30" cy="161.00" r="1.6" fill="none" stroke="#000" stroke-width="1.1"/>
<circle cx="453.90" cy="118.80" r="1.6" fill="none" stroke="#000" stroke-width="1.1"/>
<circle cx="452.10" cy="122.50" r="1.6" fill="none" stroke="#000" stroke-width="1.1"/>
<circle cx="464.50" cy="120.60" r="1.6" fill="none" stroke="#000" stroke-width="1.1"/>
<circle cx="458.20" cy="130.80" r="1.6" fill="none" stroke="#000" stroke-width="1.1"/>
<circle cx="465.20" cy="136.10" r="1.6" fill="none" stroke="#000" stroke-width="1.1"/>
<circle cx="453.90" cy="140.40" r="1.6" fill="none" stroke="#000" stroke-width="1.1"/>
<circle cx="449.70" cy="145.30" r="1.6" fill="none" stroke="#000" stroke-width="1.1"/>
<circle cx="465.20" cy="150.90" r="1.6" fill="none" stroke="#000" stroke-width="1.1"/>
<circle cx="445.80" cy="153.70" r="1.6" fill="none" stroke="#000" stroke-width="1.1"/>
<circle cx="491.40" cy="149.20" r="1.6" fill="none" stroke="#000" stroke-width="1.1"/>
<circle cx="502.00" cy="141.00" r="1.6" fill="none" stroke="#000" stroke-width="1.1"/>
<circle cx="587.00" cy="117.80" r="1.6" fill="none" stroke="#000" stroke-width="1.1"/>
<circle cx="422.70" cy="115.00" r="1.75" fill="#000"/>
<circle cx="431.90" cy="117.30" r="1.75" fill="#000"/>
<circle cx="454.40" cy="118.50" r="1.75" fill="#000"/>
<circle cx="462.20" cy="135.20" r="1.75" fill="#000"/>
<circle cx="467.20" cy="145.50" r="1.75" fill="#000"/>
<circle cx="460.60" cy="147.50" r="1.75" fill="#000"/>
<circle cx="407.80" cy="150.70" r="1.75" fill="#000"/>
<circle cx="392.60" cy="149.30" r="1.75" fill="#000"/>
<circle cx="399.00" cy="152.30" r="1.75" fill="#000"/>
<circle cx="401.60" cy="151.10" r="1.75" fill="#000"/>
<circle cx="403.40" cy="152.00" r="1.75" fill="#000"/>
<circle cx="402.50" cy="156.40" r="1.75" fill="#000"/>
<circle cx="404.80" cy="156.20" r="1.75" fill="#000"/>
<circle cx="397.90" cy="158.60" r="1.75" fill="#000"/>
<circle cx="412.20" cy="160.90" r="1.75" fill="#000"/>
<circle cx="401.10" cy="163.30" r="1.75" fill="#000"/>
<circle cx="411.70" cy="168.30" r="1.75" fill="#000"/>
<circle cx="507.60" cy="86.50" r="1.75" fill="#000"/>
<circle cx="493.90" cy="101.50" r="1.75" fill="#000"/>
<path d="M403.30 150.50L407.30 154.50M403.30 154.50L407.30 150.50" stroke="#000" stroke-width="1.25" fill="none"/>
<path d="M388.30 158.80L392.30 162.80M388.30 162.80L392.30 158.80" stroke="#000" stroke-width="1.25" fill="none"/>
<path d="M391.70 162.70L395.70 166.70M391.70 166.70L395.70 162.70" stroke="#000" stroke-width="1.25" fill="none"/>
<path d="M393.60 164.10L397.60 168.10M393.60 168.10L397.60 164.10" stroke="#000" stroke-width="1.25" fill="none"/>
<path d="M403.60 164.00L407.60 168.00M403.60 168.00L407.60 164.00" stroke="#000" stroke-width="1.25" fill="none"/>
<path d="M389.90 167.60L393.90 171.60M389.90 171.60L393.90 167.60" stroke="#000" stroke-width="1.25" fill="none"/>
<path d="M394.20 171.60L398.20 175.60M394.20 175.60L398.20 171.60" stroke="#000" stroke-width="1.25" fill="none"/>
<path d="M400.50 170.90L404.50 174.90M400.50 174.90L404.50 170.90" stroke="#000" stroke-width="1.25" fill="none"/>
<path d="M384.80 172.60L388.80 176.60M384.80 176.60L388.80 172.60" stroke="#000" stroke-width="1.25" fill="none"/>
<path d="M490.00 151.00L494.00 155.00M490.00 155.00L494.00 151.00" stroke="#000" stroke-width="1.25" fill="none"/>
<path d="M640.40 159.10L644.40 163.10M640.40 163.10L644.40 159.10" stroke="#000" stroke-width="1.25" fill="none"/>
<circle cx="411.20" cy="387.60" r="1.6" fill="none" stroke="#000" stroke-width="1.1"/>
<circle cx="410.80" cy="390.10" r="1.6" fill="none" stroke="#000" stroke-width="1.1"/>
<circle cx="418.10" cy="387.20" r="1.6" fill="none" stroke="#000" stroke-width="1.1"/>
<circle cx="415.80" cy="390.10" r="1.6" fill="none" stroke="#000" stroke-width="1.1"/>
<circle cx="427.50" cy="385.00" r="1.6" fill="none" stroke="#000" stroke-width="1.1"/>
<circle cx="431.00" cy="383.10" r="1.6" fill="none" stroke="#000" stroke-width="1.1"/>
<circle cx="430.10" cy="392.80" r="1.6" fill="none" stroke="#000" stroke-width="1.1"/>
<circle cx="405.50" cy="394.00" r="1.6" fill="none" stroke="#000" stroke-width="1.1"/>
<circle cx="451.60" cy="360.40" r="1.6" fill="none" stroke="#000" stroke-width="1.1"/>
<circle cx="451.40" cy="370.00" r="1.6" fill="none" stroke="#000" stroke-width="1.1"/>
<circle cx="469.90" cy="360.20" r="1.6" fill="none" stroke="#000" stroke-width="1.1"/>
<circle cx="468.10" cy="374.10" r="1.6" fill="none" stroke="#000" stroke-width="1.1"/>
<circle cx="445.70" cy="381.50" r="1.6" fill="none" stroke="#000" stroke-width="1.1"/>
<circle cx="448.50" cy="389.80" r="1.6" fill="none" stroke="#000" stroke-width="1.1"/>
<circle cx="513.50" cy="329.40" r="1.6" fill="none" stroke="#000" stroke-width="1.1"/>
<circle cx="517.40" cy="333.10" r="1.6" fill="none" stroke="#000" stroke-width="1.1"/>
<circle cx="517.00" cy="339.40" r="1.6" fill="none" stroke="#000" stroke-width="1.1"/>
<circle cx="515.90" cy="345.60" r="1.6" fill="none" stroke="#000" stroke-width="1.1"/>
<circle cx="503.00" cy="343.00" r="1.6" fill="none" stroke="#000" stroke-width="1.1"/>
<circle cx="494.40" cy="348.30" r="1.6" fill="none" stroke="#000" stroke-width="1.1"/>
<circle cx="493.50" cy="358.90" r="1.6" fill="none" stroke="#000" stroke-width="1.1"/>
<circle cx="563.10" cy="284.20" r="1.6" fill="none" stroke="#000" stroke-width="1.1"/>
<circle cx="567.90" cy="298.10" r="1.6" fill="none" stroke="#000" stroke-width="1.1"/>
<circle cx="628.10" cy="301.50" r="1.6" fill="none" stroke="#000" stroke-width="1.1"/>
<circle cx="396.40" cy="398.30" r="1.6" fill="none" stroke="#000" stroke-width="1.1"/>
<circle cx="397.40" cy="400.40" r="1.6" fill="none" stroke="#000" stroke-width="1.1"/>
<circle cx="408.90" cy="389.80" r="1.6" fill="none" stroke="#000" stroke-width="1.1"/>
<circle cx="401.40" cy="383.90" r="1.75" fill="#000"/>
<circle cx="400.60" cy="386.10" r="1.75" fill="#000"/>
<circle cx="407.60" cy="391.50" r="1.75" fill="#000"/>
<circle cx="406.40" cy="392.60" r="1.75" fill="#000"/>
<circle cx="423.90" cy="385.90" r="1.75" fill="#000"/>
<circle cx="455.50" cy="361.30" r="1.75" fill="#000"/>
<circle cx="446.70" cy="367.30" r="1.75" fill="#000"/>
<circle cx="475.10" cy="353.20" r="1.75" fill="#000"/>
<circle cx="480.80" cy="364.40" r="1.75" fill="#000"/>
<circle cx="482.20" cy="373.40" r="1.75" fill="#000"/>
<circle cx="548.90" cy="363.00" r="1.75" fill="#000"/>
<circle cx="628.60" cy="306.40" r="1.75" fill="#000"/>
<circle cx="652.60" cy="252.40" r="1.75" fill="#000"/>
<circle cx="394.50" cy="398.80" r="1.75" fill="#000"/>
<circle cx="397.40" cy="395.60" r="1.75" fill="#000"/>
<circle cx="399.30" cy="397.20" r="1.75" fill="#000"/>
<circle cx="404.10" cy="394.60" r="1.75" fill="#000"/>
<circle cx="415.70" cy="395.60" r="1.75" fill="#000"/>
<path d="M413.70 393.40L417.70 397.40M413.70 397.40L417.70 393.40" stroke="#000" stroke-width="1.25" fill="none"/>
<path d="M449.30 359.30L453.30 363.30M449.30 363.30L453.30 359.30" stroke="#000" stroke-width="1.25" fill="none"/>
<path d="M446.10 380.40L450.10 384.40M446.10 384.40L450.10 380.40" stroke="#000" stroke-width="1.25" fill="none"/>
<path d="M452.40 380.10L456.40 384.10M452.40 384.10L456.40 380.10" stroke="#000" stroke-width="1.25" fill="none"/>
<path d="M596.20 367.60L600.20 371.60M596.20 371.60L600.20 367.60" stroke="#000" stroke-width="1.25" fill="none"/>
<path d="M386.40 402.40L390.40 406.40M386.40 406.40L390.40 402.40" stroke="#000" stroke-width="1.25" fill="none"/>
<path d="M387.70 400.00L391.70 404.00M387.70 404.00L391.70 400.00" stroke="#000" stroke-width="1.25" fill="none"/>
<path d="M389.30 397.90L393.30 401.90M389.30 401.90L393.30 397.90" stroke="#000" stroke-width="1.25" fill="none"/>
<path d="M390.90 395.80L394.90 399.80M390.90 399.80L394.90 395.80" stroke="#000" stroke-width="1.25" fill="none"/>
<path d="M394.60 400.60L398.60 404.60M394.60 404.60L398.60 400.60" stroke="#000" stroke-width="1.25" fill="none"/>
<path d="M399.20 394.40L403.20 398.40M399.20 398.40L403.20 394.40" stroke="#000" stroke-width="1.25" fill="none"/>
</svg></body></html>
